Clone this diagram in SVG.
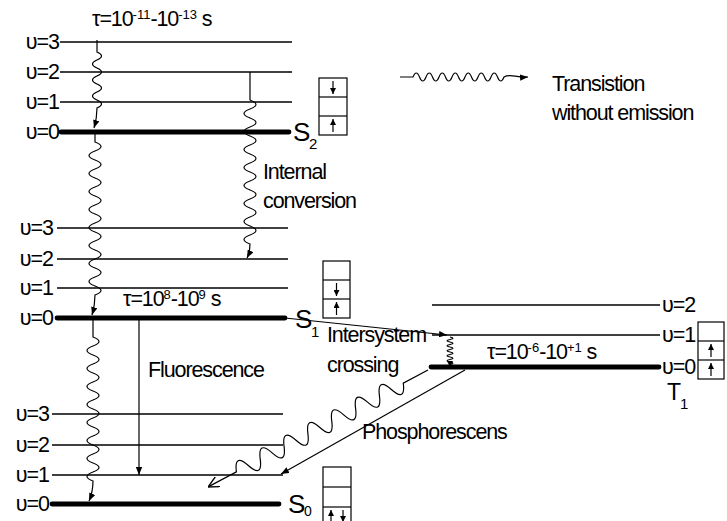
<svg xmlns="http://www.w3.org/2000/svg" width="727" height="521" viewBox="0 0 727 521">
<style>
text{font-family:"Liberation Sans",Arial,sans-serif;fill:#000}
.lbl{font-size:21.5px;letter-spacing:-1.1px}
.v{font-size:21.5px;letter-spacing:-1px}
.big{font-size:26px}
.sub{font-size:15px}
.sup{font-size:13px}
.lv{stroke:#000;stroke-width:1.7;fill:none}
.th{stroke:#000;stroke-width:4.8;fill:none;stroke-linecap:round}
.bx{fill:#fff;stroke:#000;stroke-width:1.2}
.ar{stroke:#000;stroke-width:1.2;fill:none}
.cn{stroke:#000;stroke-width:1.2;fill:none}
</style>
<defs>
<marker id="ah" viewBox="0 0 10 8" refX="10" refY="4" markerWidth="8" markerHeight="6.4" markerUnits="userSpaceOnUse" orient="auto"><path d="M0,0 L10,4 L0,8 z" fill="#000"/></marker>
<marker id="sm" viewBox="0 0 10 10" refX="10" refY="5" markerWidth="6" markerHeight="6" markerUnits="userSpaceOnUse" orient="auto"><path d="M0,0 L10,5 L0,10 z" fill="#000"/></marker>
<marker id="open" viewBox="0 0 10 10" refX="10" refY="5" markerWidth="11" markerHeight="11" markerUnits="userSpaceOnUse" orient="auto"><path d="M0,0 L10,5 L0,10" fill="none" stroke="#000" stroke-width="1.3"/></marker>
</defs>

<g id="S2">
<line class="lv" x1="60" y1="42" x2="292" y2="42"/>
<line class="lv" x1="60" y1="72" x2="292" y2="72"/>
<line class="lv" x1="60" y1="102" x2="292" y2="102"/>
<line class="th" x1="61" y1="132" x2="289" y2="132"/>
<text class="v" x="59" y="49" text-anchor="end">υ=3</text>
<text class="v" x="59" y="79" text-anchor="end">υ=2</text>
<text class="v" x="59" y="109" text-anchor="end">υ=1</text>
<text class="v" x="59" y="139" text-anchor="end">υ=0</text>
<text class="big" x="293" y="141">S</text><text class="sub" x="309" y="149">2</text>
<rect class="bx" x="319" y="78" width="28" height="57"/>
<line class="ar" x1="319" y1="97" x2="347" y2="97"/>
<line class="ar" x1="319" y1="116" x2="347" y2="116"/>
<line class="ar" x1="333" y1="81" x2="333" y2="94" marker-end="url(#sm)"/>
<line class="ar" x1="333" y1="132" x2="333" y2="119" marker-end="url(#sm)"/>
</g>

<g id="S1">
<line class="lv" x1="57" y1="228" x2="288" y2="228"/>
<line class="lv" x1="57" y1="259" x2="288" y2="259"/>
<line class="lv" x1="57" y1="288" x2="288" y2="288"/>
<line class="th" x1="57" y1="318" x2="285" y2="318"/>
<text class="v" x="53" y="235" text-anchor="end">υ=3</text>
<text class="v" x="53" y="266" text-anchor="end">υ=2</text>
<text class="v" x="53" y="295" text-anchor="end">υ=1</text>
<text class="v" x="53" y="325" text-anchor="end">υ=0</text>
<text class="big" x="295" y="328">S</text><text class="sub" x="311" y="337">1</text>
<rect class="bx" x="323" y="261" width="27" height="57"/>
<line class="ar" x1="323" y1="280" x2="350" y2="280"/>
<line class="ar" x1="323" y1="299" x2="350" y2="299"/>
<line class="ar" x1="336.5" y1="283" x2="336.5" y2="296" marker-end="url(#sm)"/>
<line class="ar" x1="336.5" y1="315" x2="336.5" y2="302" marker-end="url(#sm)"/>
</g>

<g id="S0">
<line class="lv" x1="52" y1="414" x2="283" y2="414"/>
<line class="lv" x1="52" y1="445" x2="283" y2="445"/>
<line class="lv" x1="52" y1="475" x2="283" y2="475"/>
<line class="th" x1="52" y1="504" x2="279" y2="504"/>
<text class="v" x="49" y="421" text-anchor="end">υ=3</text>
<text class="v" x="49" y="452" text-anchor="end">υ=2</text>
<text class="v" x="49" y="482" text-anchor="end">υ=1</text>
<text class="v" x="49" y="511" text-anchor="end">υ=0</text>
<text class="big" x="288" y="513">S</text><text x="304" y="516" style="font-size:14px">0</text>
<rect class="bx" x="323" y="467" width="28" height="60"/>
<line class="ar" x1="323" y1="487" x2="351" y2="487"/>
<line class="ar" x1="323" y1="507" x2="351" y2="507"/>
<line class="ar" x1="331" y1="522" x2="331" y2="510" marker-end="url(#sm)"/>
<line class="ar" x1="343" y1="510" x2="343" y2="522" marker-end="url(#sm)"/>
</g>

<g id="T1">
<line class="lv" x1="432" y1="305" x2="660" y2="305"/>
<line class="lv" x1="432" y1="335" x2="660" y2="335"/>
<line class="th" x1="431" y1="367" x2="659" y2="367"/>
<text class="v" x="662" y="312">υ=2</text>
<text class="v" x="662" y="342">υ=1</text>
<text class="v" x="662" y="374">υ=0</text>
<text class="big" x="667" y="400" style="font-size:23px">T</text><text class="sub" x="680" y="409">1</text>
<rect class="bx" x="698" y="322" width="26" height="57"/>
<line class="ar" x1="698" y1="341" x2="724" y2="341"/>
<line class="ar" x1="698" y1="360" x2="724" y2="360"/>
<line class="ar" x1="711" y1="357" x2="711" y2="344" marker-end="url(#sm)"/>
<line class="ar" x1="711" y1="376" x2="711" y2="363" marker-end="url(#sm)"/>
</g>

<g id="legend">
<path class="cn" d="M400 77 H413 q3.25 -8 6.5 0 t6.5 0 t6.5 0 t6.5 0 t6.5 0 t6.5 0 t6.5 0 t6.5 0 t6.5 0 t6.5 0 t6.5 0 t6.5 0 t6.5 0 t6.5 0 C510 73 516 78 528 77" marker-end="url(#ah)"/>
<text class="lbl" x="552" y="91">Transistion</text>
<text class="lbl" x="552" y="120">without emission</text>
</g>

<g id="labels">
<text class="lbl" x="92" y="26">τ=10<tspan class="sup" dy="-7" style="letter-spacing:0">-11</tspan><tspan dy="7">-10</tspan><tspan class="sup" dy="-7" style="letter-spacing:0">-13</tspan><tspan dy="7"> s</tspan></text>
<text class="lbl" x="123" y="306">τ=10<tspan class="sup" dy="-7" style="letter-spacing:0">8</tspan><tspan dy="7">-10</tspan><tspan class="sup" dy="-7" style="letter-spacing:0">9</tspan><tspan dy="7"> s</tspan></text>
<text class="lbl" x="487" y="359">τ=10<tspan class="sup" dy="-7" style="letter-spacing:0">-6</tspan><tspan dy="7">-10</tspan><tspan class="sup" dy="-7" style="letter-spacing:0">+1</tspan><tspan dy="7"> s</tspan></text>
<text class="lbl" x="263" y="179">Internal</text>
<text class="lbl" x="263" y="208">conversion</text>
<text class="lbl" x="148" y="377">Fluorescence</text>
<text class="lbl" x="327" y="342">Intersystem</text>
<text class="lbl" x="327" y="372">crossing</text>
<text class="lbl" x="362" y="439">Phosphorescens</text>
</g>

<g id="connectors">
<path class="cn" d="M97 40 V52 q9 4 0 8 t0 8 t0 8 t0 8 t0 8 t0 8 t0 8 Q97 118 94 128" marker-end="url(#ah)"/>
<path class="cn" d="M250 72 V100 q12 4.5 0 9 t0 9 t0 9 t0 9 t0 9 t0 9 t0 9 t0 9 t0 9 t0 9 t0 9 t0 9 t0 9 t0 9 t0 9 t0 9 Q250 252 247 258" marker-end="url(#ah)"/>
<path class="cn" d="M95 134 V142 q12 4.5 0 9 t0 9 t0 9 t0 9 t0 9 t0 9 t0 9 t0 9 t0 9 t0 9 t0 9 t0 9 t0 9 t0 9 t0 9 t0 9 t0 9 Q95 305 92 315" marker-end="url(#ah)"/>
<path class="cn" d="M93 320 V337 q12 4.5 0 9 t0 9 t0 9 t0 9 t0 9 t0 9 t0 9 t0 9 t0 9 t0 9 t0 9 t0 9 t0 9 t0 9 t0 9 t0 9 Q93 492 89 501" marker-end="url(#ah)"/>
<line class="cn" x1="139" y1="318" x2="139" y2="475" marker-end="url(#ah)"/>
<line class="cn" x1="285" y1="318" x2="447" y2="335" marker-end="url(#ah)"/>
<path class="cn" d="M450 337 q6 1.25 0 2.5 t0 2.5 t0 2.5 t0 2.5 t0 2.5 t0 2.5 t0 2.5 t0 2.5 t0 2.5 t0 2.5 t0 2.5 L450 367" marker-end="url(#sm)"/>
<line class="cn" x1="465" y1="370" x2="281" y2="474" marker-end="url(#ah)"/>
<path class="cn" transform="translate(428,370) rotate(152)" d="M0 0 L28 0 q6.75 -18 13.5 0 t13.5 0 t13.5 0 t13.5 0 t13.5 0 t13.5 0 t13.5 0 t13.5 0 t13.5 0 t13.5 0 t13.5 0 t13.5 0 t13.5 0 t13.5 0 L249 0" marker-end="url(#open)"/>
</g>
</svg>
